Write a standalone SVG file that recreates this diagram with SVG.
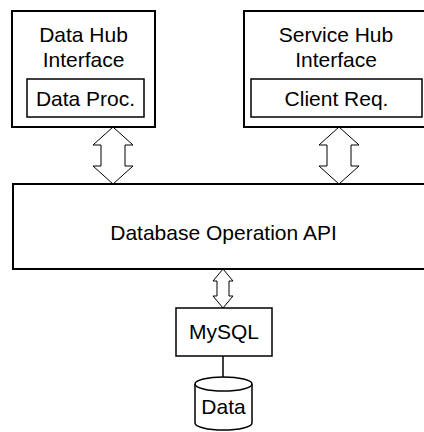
<svg xmlns="http://www.w3.org/2000/svg" width="424" height="432" viewBox="0 0 424 432">
  <style>
    .box { fill: #fff; stroke: #000; stroke-width: 2; }
    .inner { fill: #fff; stroke: #000; stroke-width: 1.5; }
    .arrow { fill: #fff; stroke: #000; stroke-width: 1; stroke-linejoin: miter; }
    .link { fill: none; stroke: #000; stroke-width: 1.5; }
    text { font-family: "Liberation Sans", Arial, sans-serif; font-size: 21px; fill: #000; text-anchor: middle; }
  </style>
  <rect width="424" height="432" fill="#fff"/>

  <!-- connectors: double-headed block arrows and the db link -->
  <g id="connectors">
    <polygon class="arrow" points="113,127 133,145 125,145 125,166 133,166 113,184 93,166 101,166 101,145 93,145"/>
    <polygon class="arrow" points="339,127 359,145 351,145 351,166 359,166 339,184 319,166 327,166 327,145 319,145"/>
    <polygon class="arrow" points="223,269 233,281 229,281 229,296 233,296 223,308 213,296 217,296 217,281 213,281"/>
    <line class="link" x1="223" y1="356" x2="223" y2="377"/>
  </g>

  <g id="data-hub">
    <rect class="box" x="12" y="11" width="143" height="116"/>
    <text x="83.5" y="42">Data Hub</text>
    <text x="83.5" y="67">Interface</text>
    <rect class="inner" x="27" y="79" width="117" height="38"/>
    <text x="85.5" y="106">Data Proc.</text>
  </g>

  <g id="service-hub">
    <rect class="box" x="244" y="11" width="186" height="116"/>
    <text x="336" y="42">Service Hub</text>
    <text x="336" y="67">Interface</text>
    <rect class="inner" x="251" y="79" width="171" height="38"/>
    <text x="336.5" y="106">Client Req.</text>
  </g>

  <g id="db-api">
    <rect class="box" x="13" y="184" width="422" height="85"/>
    <text x="223.5" y="240">Database Operation API</text>
  </g>

  <g id="mysql">
    <rect class="inner" x="176" y="308" width="96" height="48"/>
    <text x="224" y="339">MySQL</text>
  </g>

  <g id="data-store">
    <path class="inner" d="M195,384 A28.5,7 0 0 1 252,384 L252,423 A28.5,7 0 0 1 195,423 Z"/>
    <path class="inner" d="M195,384 A28.5,7 0 0 0 252,384"/>
    <text x="223.5" y="414">Data</text>
  </g>
</svg>
